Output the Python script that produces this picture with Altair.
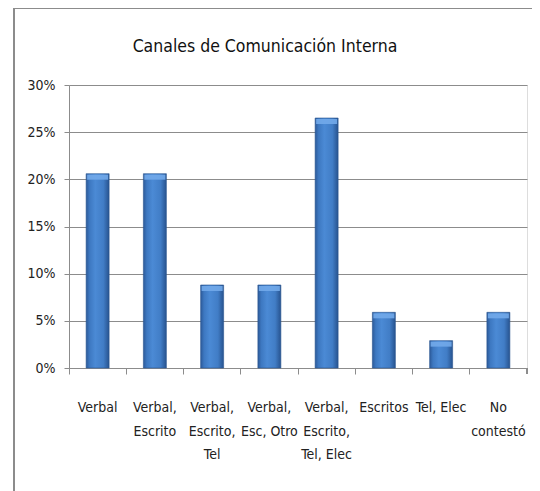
import altair as alt
import pandas as pd

categories = [
    "Verbal",
    "Verbal,\nEscrito",
    "Verbal,\nEscrito,\nTel",
    "Verbal,\nEsc, Otro",
    "Verbal,\nEscrito,\nTel, Elec",
    "Escritos",
    "Tel, Elec",
    "No\ncontestó",
]
values = [0.206, 0.206, 0.088, 0.088, 0.265, 0.059, 0.029, 0.059]
y_ticks = [0, 0.05, 0.10, 0.15, 0.20, 0.25, 0.30]
title_text = "Canales de Comunicación Interna"

df = pd.DataFrame({"cat": categories, "pct": values})

FONT = "DejaVu Sans Condensed, Liberation Sans, sans-serif"

x_enc = alt.X(
    "cat:N",
    sort=categories,
    scale=alt.Scale(paddingInner=0, paddingOuter=0),
    axis=alt.Axis(
        title=None,
        labelAngle=0,
        bandPosition=0,
        labelExpr="split(datum.label, '\\n')",
        labelFont=FONT,
        labelFontSize=14,
        labelColor="#222222",
        labelLineHeight=23.5,
        labelPadding=26.5,
        labelBaseline="top",
        domainColor="#8c8c8c",
        tickColor="#8c8c8c",
        tickSize=6,
        grid=False,
    ),
)

y_enc = alt.Y(
    "pct:Q",
    scale=alt.Scale(domain=[0, 0.30], nice=False),
    axis=alt.Axis(
        title=None,
        format=".0%",
        values=y_ticks,
        labelFont=FONT,
        labelFontSize=14,
        labelColor="#222222",
        labelPadding=9,
        domainColor="#8c8c8c",
        tickColor="#8c8c8c",
        tickSize=5,
        gridColor="#8c8c8c",
        gridWidth=1,
    ),
)

grad = alt.LinearGradient(
    gradient="linear",
    x1=0, x2=1, y1=0, y2=0,
    stops=[
        alt.GradientStop(color="#2c5a99", offset=0),
        alt.GradientStop(color="#3d78c1", offset=0.15),
        alt.GradientStop(color="#4b8ad5", offset=0.4),
        alt.GradientStop(color="#417dc6", offset=0.75),
        alt.GradientStop(color="#27538f", offset=1),
    ],
)

bars = alt.Chart(df).mark_bar(size=23, color=grad, stroke="#2a5590", strokeWidth=0.6).encode(
    x=x_enc, y=y_enc
)

caps = alt.Chart(df).mark_tick(
    size=21, thickness=5, yOffset=3.5, color="#72aaea", opacity=0.9
).encode(x=alt.X("cat:N", sort=categories), y="pct:Q")

last_tick = alt.Chart(df).mark_rule(color="#8c8c8c").encode(
    x=alt.value(458), y=alt.value(283), y2=alt.value(289)
)

frame = alt.Chart(df).mark_rect(
    fill=None, stroke="#8c8c8c", strokeWidth=2
).encode(
    x=alt.value(-55), x2=alt.value(620), y=alt.value(-77), y2=alt.value(500)
)

chart = alt.layer(frame, bars, caps, last_tick).properties(
    width=458,
    height=283,
    padding={"left": 61, "top": 77, "right": 5, "bottom": 123},
    autosize=alt.AutoSizeParams(type="none"),
    title=alt.TitleParams(
        text=title_text,
        font=FONT,
        fontSize=17.5,
        fontWeight="normal",
        color="#111111",
        anchor="middle",
        dx=-33,
        offset=-48,
    ),
).configure_view(stroke=None).configure(background="white")

chart.save("out.html", embed_options={"renderer": "svg", "actions": False})
